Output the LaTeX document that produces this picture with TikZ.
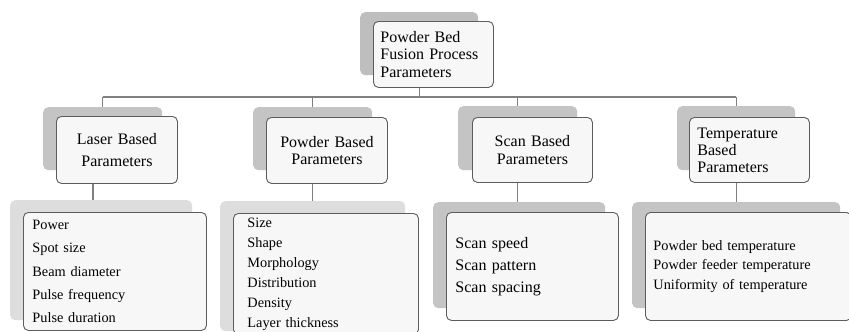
\documentclass[tikz,border=0pt]{standalone}
\usepackage{fontspec}
\setmainfont{Liberation Serif}
\definecolor{shadowdark}{HTML}{C4C4C4}
\definecolor{shadowtop}{HTML}{BEBEBE}
\definecolor{shadowlight}{HTML}{DDDDDD}
\definecolor{boxline}{HTML}{5C5C5C}
\definecolor{boxfill}{HTML}{F7F7F7}
\definecolor{connline}{HTML}{808080}
\tikzset{
  shadowbox/.style={rectangle, rounded corners=5pt, draw=none, inner sep=0pt, anchor=north west},
  frontbox/.style={rectangle, rounded corners=5pt, draw=boxline, line width=0.9pt, fill=boxfill,
                   anchor=north west, inner ysep=0pt},
  conn/.style={draw=connline, line width=1.1pt},
  hdrfont/.style={font=\fontsize{16}{#1}\selectfont},
  listfont/.style={font=\fontsize{14.3}{#1}\selectfont},
}
\begin{document}
\begin{tikzpicture}[x=1pt, y=-1pt]
\clip (0,0) rectangle (849,332);
\fill[white] (0,0) rectangle (849,332);

% ---- root ----
\node[shadowbox, fill=shadowtop, minimum width=118pt, minimum height=63pt] (rootS) at (360,12) {};
\node[frontbox, minimum width=120pt, minimum height=66pt, text width=106pt, inner xsep=7pt,
      align=left, hdrfont=17.5] (root) at (373,21) {Powder Bed\\Fusion Process\\Parameters};

% ---- category headers ----
\node[shadowbox, fill=shadowdark, minimum width=119pt, minimum height=63pt] (laserS) at (43,107) {};
\node[frontbox, minimum width=121pt, minimum height=67pt, text width=107pt, inner xsep=7pt,
      align=center, hdrfont=22] (laser) at (56,116) {Laser Based\\Parameters};

\node[shadowbox, fill=shadowdark, minimum width=119pt, minimum height=63pt] (powderS) at (253,107) {};
\node[frontbox, minimum width=121pt, minimum height=66pt, text width=107pt, inner xsep=7pt,
      align=center, hdrfont=17.5] (powder) at (266,117) {Powder Based\\Parameters};

\node[shadowbox, fill=shadowdark, minimum width=119pt, minimum height=64pt] (scanS) at (458,106) {};
\node[frontbox, minimum width=120pt, minimum height=65pt, text width=106pt, inner xsep=7pt,
      align=center, hdrfont=17.5] (scan) at (472,117) {Scan Based\\Parameters};

\node[shadowbox, fill=shadowdark, minimum width=118pt, minimum height=64pt] (tempS) at (677,106) {};
\node[frontbox, minimum width=120pt, minimum height=65pt, text width=104pt, inner xsep=8pt,
      align=left, hdrfont=17] (temp) at (689,117) {Temperature\\Based\\Parameters};

% ---- parameter lists ----
\node[shadowbox, fill=shadowlight, minimum width=182pt, minimum height=120pt] (laserLS) at (10,200) {};
\node[frontbox, minimum width=183pt, minimum height=118pt, text width=165pt, inner xsep=9pt,
      align=left, listfont=23.3] (laserL) at (23,212)
      {Power\\Spot size\\Beam diameter\\Pulse frequency\\Pulse duration};

\node[shadowbox, fill=shadowlight, minimum width=185pt, minimum height=130pt] (powderLS) at (220,201) {};
\node[frontbox, minimum width=185pt, minimum height=121pt, text width=157pt, inner xsep=14pt,
      align=left, listfont=20] (powderL) at (233,213)
      {Size\\Shape\\Morphology\\Distribution\\Density\\Layer thickness};

\node[shadowbox, fill=shadowdark, minimum width=172pt, minimum height=106pt] (scanLS) at (433,202) {};
\node[frontbox, minimum width=172pt, minimum height=108pt, text width=154pt, inner xsep=9pt,
      align=left, hdrfont=22] (scanL) at (446,212)
      {Scan speed\\Scan pattern\\Scan spacing};

\node[shadowbox, fill=shadowdark, minimum width=208pt, minimum height=106pt] (tempLS) at (632,202) {};
\node[frontbox, minimum width=206pt, minimum height=108pt, text width=190pt, inner xsep=8pt,
      align=left, listfont=19.5] (tempL) at (645,212)
      {Powder bed temperature\\Powder feeder temperature\\Uniformity of temperature};

% ---- connectors ----
\coordinate (bus) at (0,97);
\coordinate (laserX) at (93,0);
\draw[conn] (rootS.south |- root.south) -- (rootS.south |- bus);
\draw[conn] (laserS.north |- bus) -- (tempS.north |- bus);
\foreach \c in {laserS, powderS, scanS, tempS}
  \draw[conn] (\c.north |- bus) -- (\c.north);
\draw[conn] (laser.south -| laserX) -- (laserLS.north -| laserX);
\draw[conn] (powder.south -| powderS.south) -- (powderLS.north -| powderS.south);
\draw[conn] (scan.south -| scanS.south) -- (scanLS.north -| scanS.south);
\draw[conn] (temp.south -| tempS.south) -- (tempLS.north -| tempS.south);
\end{tikzpicture}
\end{document}
